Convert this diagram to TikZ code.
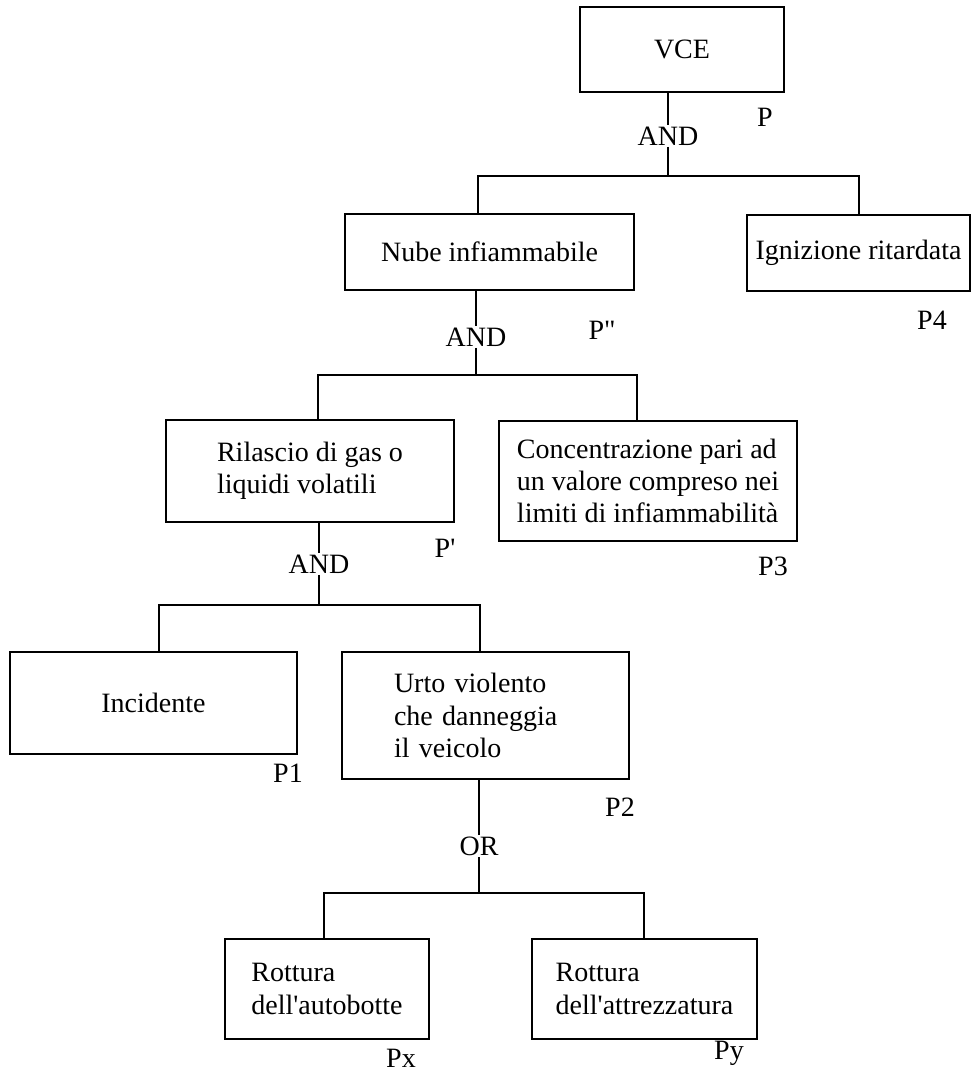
\documentclass[tikz,border=0pt]{standalone}
\usepackage{fontspec}
\setmainfont{Liberation Serif}
\begin{document}
\begin{tikzpicture}[x=0.5pt,y=-0.5pt,
  font=\fontsize{14}{16.2}\selectfont,
  evbox/.style={draw, line width=0.6pt, inner sep=0pt, align=left},
  gate/.style={inner sep=0.6pt},
  prob/.style={inner sep=0pt},
  conn/.style={line width=0.6pt}]
\path[fill=white, use as bounding box] (0,0) rectangle (971,1072);

% event boxes
\node[evbox, minimum width=102pt, minimum height=42.5pt] (vce) at (682,49.5) {VCE};
\node[evbox, minimum width=144.5pt, minimum height=38pt] (nube) at (489.5,252) {Nube infiammabile};
\node[evbox, minimum width=111.5pt, minimum height=38pt] (ign) at (858.5,253) {Ignizione ritardata};
\node[evbox, minimum width=144pt, minimum height=51pt] (ril) at (310,471) {Rilascio di gas o\\liquidi volatili};
\node[evbox, minimum width=149pt, minimum height=60pt] (conc) at (648,481) {Concentrazione pari ad\\un valore compreso nei\\limiti di infiammabilità};
\node[evbox, minimum width=143.5pt, minimum height=51pt] (inc) at (153.5,703) {Incidente};
\node[evbox, minimum width=143.5pt, minimum height=63.5pt, text width=91.5pt] (urto) at (485.5,715.5) {Urto violento\\che danneggia\\il veicolo};
\node[evbox, minimum width=102pt, minimum height=50pt] (rx) at (327,989) {Rottura\\dell\textquotesingle autobotte};
\node[evbox, minimum width=112.5pt, minimum height=50pt] (ry) at (644.5,989) {Rottura\\dell\textquotesingle attrezzatura};

% gates
\node[gate] (and1) at (668,136) {AND};
\node[gate] (and2) at (476,337) {AND};
\node[gate] (and3) at (319,564) {AND};
\node[gate] (or1) at (479,846) {OR};

% probability labels
\node[prob] (pP) at (765,117) {P};
\node[prob] (pPpp) at (602,330) {P\textquotedbl};
\node[prob] (pPp) at (445,548) {P\textquotesingle};
\node[prob] (p1) at (288,773) {P1};
\node[prob] (p2) at (620,807) {P2};
\node[prob] (p3) at (773,566) {P3};
\node[prob] (p4) at (932,320) {P4};
\node[prob] (px) at (401,1058) {Px};
\node[prob] (py) at (729,1053) {Py};

% bar end coordinates
\coordinate (b1l) at (478,176);
\coordinate (b1r) at (859,176);
\coordinate (b2l) at (318,375);
\coordinate (b2r) at (637,375);
\coordinate (b3l) at (159,605);
\coordinate (b3r) at (480,605);
\coordinate (b4l) at (324,893);
\coordinate (b4r) at (644,893);

% connectors
\draw[conn] (vce.south -| and1) -- (and1.north);
\draw[conn] (and1.south) -- (and1 |- b1l);
\draw[conn] (nube.north -| b1l) -- (b1l) -- (b1r) -- (ign.north -| b1r);

\draw[conn] (nube.south -| and2) -- (and2.north);
\draw[conn] (and2.south) -- (and2 |- b2l);
\draw[conn] (ril.north -| b2l) -- (b2l) -- (b2r) -- (conc.north -| b2r);

\draw[conn] (ril.south -| and3) -- (and3.north);
\draw[conn] (and3.south) -- (and3 |- b3l);
\draw[conn] (inc.north -| b3l) -- (b3l) -- (b3r) -- (urto.north -| b3r);

\draw[conn] (urto.south -| or1) -- (or1.north);
\draw[conn] (or1.south) -- (or1 |- b4l);
\draw[conn] (rx.north -| b4l) -- (b4l) -- (b4r) -- (ry.north -| b4r);
\end{tikzpicture}
\end{document}
